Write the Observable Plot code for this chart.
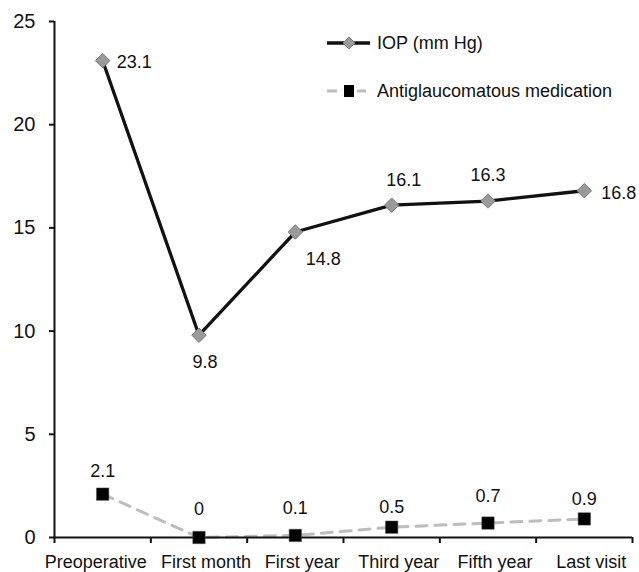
<!DOCTYPE html>
<html>
<head>
<meta charset="utf-8">
<script src="https://cdn.jsdelivr.net/npm/d3@7"></script>
<script src="https://cdn.jsdelivr.net/npm/@observablehq/plot@0.6"></script>
<style>
  html, body { margin: 0; padding: 0; background: #fff; }
  #wrap { position: relative; width: 639px; height: 572px; font-family: "Liberation Sans", Arial, sans-serif; }
  #legend { position: absolute; left: 0; top: 0; pointer-events: none; }
</style>
</head>
<body>
<div id="wrap"></div>
<script>
const categories = ["Preoperative", "First month", "First year", "Third year", "Fifth year", "Last visit"];
const iopValues = [23.1, 9.8, 14.8, 16.1, 16.3, 16.8];
const medValues = [2.1, 0, 0.1, 0.5, 0.7, 0.9];
const yTicks = [0, 5, 10, 15, 20, 25];
const seriesNames = ["IOP (mm Hg)", "Antiglaucomatous medication"];

// label placement (styling, not data)
const iopLabelPos = [
  {dx: 14, dy: 2, anchor: "start"},
  {dx: 6, dy: 27, anchor: "middle"},
  {dx: 28, dy: 27, anchor: "middle"},
  {dx: 12, dy: -25, anchor: "middle"},
  {dx: 0, dy: -26, anchor: "middle"},
  {dx: 17, dy: 2, anchor: "start"}
];
const medLabelDy = [-23, -28, -27, -20, -27, -20];

const iopData = categories.map((c, i) => ({i, c, v: iopValues[i]}));
const medData = categories.map((c, i) => ({i, c, v: medValues[i]}));
const boundaries = d3.range(categories.length + 1).map(i => i - 0.5);
const idx = d3.range(categories.length);
const FONT = "'Liberation Sans', Arial, sans-serif";

const chart = Plot.plot({
  width: 639,
  height: 572,
  marginLeft: 54,
  marginRight: 7,
  marginTop: 21,
  marginBottom: 35,
  style: {fontFamily: FONT, fontSize: "18px", color: "#111", background: "#fff"},
  x: {type: "linear", domain: [-0.5, categories.length - 0.5]},
  y: {domain: [0, 25]},
  marks: [
    Plot.axisY(yTicks, {tickSize: 5, tickPadding: 14, fontSize: 20, strokeWidth: 2, label: null}),
    Plot.axisX(boundaries, {tickSize: 6, tickFormat: () => "", strokeWidth: 2, label: null}),
    Plot.axisX(idx.slice(0, 1), {tickSize: 0, tickPadding: 18, dx: -7, tickFormat: i => categories[i], fontSize: 18, label: null}),
    Plot.axisX(idx.slice(1), {tickSize: 0, tickPadding: 18, dx: 7, tickFormat: i => categories[i], fontSize: 18, label: null}),
    Plot.ruleX([-0.5], {y1: 0, y2: 25, stroke: "#111", strokeWidth: 2}),
    Plot.line(medData, {x: "i", y: "v", stroke: "#bdbdbd", strokeWidth: 3, strokeDasharray: "11,8"}),
    Plot.ruleY([0], {stroke: "#111", strokeWidth: 2}),
    Plot.dot(medData, {x: "i", y: "v", symbol: "square", r: 7, fill: "#000", stroke: "#555", strokeWidth: 0.5}),
    Plot.line(iopData, {x: "i", y: "v", stroke: "#111", strokeWidth: 3.3}),
    Plot.dot(iopData, {x: "i", y: "v", symbol: "diamond2", r: 6.5, fill: "#9a9a9a", stroke: "#7a7a7a", strokeWidth: 1}),
    ...iopLabelPos.map((p, k) => Plot.text(iopData, {
      filter: d => d.i === k, x: "i", y: "v", text: d => d.v.toFixed(1),
      dx: p.dx, dy: p.dy, textAnchor: p.anchor, fontSize: 18, fill: "#111"
    })),
    ...medLabelDy.map((dy, k) => Plot.text(medData, {
      filter: d => d.i === k, x: "i", y: "v", text: d => String(d.v),
      dy, fontSize: 18, fill: "#111"
    }))
  ]
});

const wrap = document.getElementById("wrap");
wrap.appendChild(chart);

// legend overlay
const ns = "http://www.w3.org/2000/svg";
const leg = document.createElementNS(ns, "svg");
leg.setAttribute("id", "legend");
leg.setAttribute("width", 639);
leg.setAttribute("height", 120);
leg.innerHTML = `
  <line x1="327" x2="370" y1="43" y2="43" stroke="#111" stroke-width="3.5"/>
  <path d="M349,37 L355,43 L349,49 L343,43 Z" fill="#9a9a9a" stroke="#7a7a7a" stroke-width="1"/>
  <text x="377" y="43" dominant-baseline="central" font-size="18" font-family="${FONT}" fill="#111">${seriesNames[0]}</text>
  <line x1="327" x2="337" y1="91" y2="91" stroke="#bdbdbd" stroke-width="3"/>
  <line x1="357" x2="366" y1="91" y2="91" stroke="#bdbdbd" stroke-width="3"/>
  <rect x="344" y="85" width="10" height="12" fill="#000"/>
  <text x="377" y="91" dominant-baseline="central" font-size="18" font-family="${FONT}" fill="#111">${seriesNames[1]}</text>
`;
wrap.appendChild(leg);
</script>
</body>
</html>
